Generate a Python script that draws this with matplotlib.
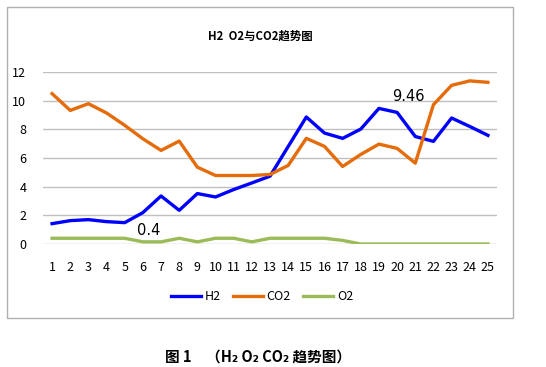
import matplotlib.pyplot as plt
from matplotlib.patches import Rectangle

plt.rcParams['font.family'] = ['Noto Sans CJK SC', 'DejaVu Sans']

days = list(range(1, 26))
h2 = [1.42, 1.63, 1.70, 1.56, 1.49, 2.19, 3.35, 2.35, 3.52, 3.28, 3.80, 4.26, 4.73,
      6.80, 8.86, 7.74, 7.37, 8.02, 9.46, 9.18, 7.50, 7.16, 8.79, 8.20, 7.58]
co2 = [10.49, 9.32, 9.79, 9.14, 8.28, 7.34, 6.53, 7.18, 5.36, 4.78, 4.78, 4.78, 4.85,
       5.48, 7.37, 6.81, 5.41, 6.25, 6.97, 6.67, 5.64, 9.72, 11.07, 11.38, 11.28]
o2 = [0.4, 0.4, 0.4, 0.4, 0.4, 0.15, 0.15, 0.4, 0.15, 0.4, 0.4, 0.15, 0.4,
      0.4, 0.4, 0.4, 0.25, 0, 0, 0, 0, 0, 0, 0, 0]

W, H = 546, 367
fig = plt.figure(figsize=(W / 100, H / 100), dpi=100)

# chart frame
fig.patches.append(Rectangle((7 / W, 1 - 318 / H), (513 - 7) / W, (318 - 7) / H,
                             transform=fig.transFigure, fill=False,
                             edgecolor='#B0B0B0', linewidth=1.0))

ax = fig.add_axes([43 / W, 123 / H, (497 - 43) / W, 172 / H])
ax.plot(days, h2, color='#0000FF', linewidth=2.4, label='H2')
ax.plot(days, co2, color='#E46C0A', linewidth=2.4, label='CO2')
ax.plot(days, o2, color='#9BBB59', linewidth=2.4, label='O2')

ax.set_xlim(0.5, 25.5)
ax.set_ylim(0, 12)
ax.set_yticks(range(0, 13, 2))
ax.set_xticks(days)
ax.grid(axis='y', color='#BFBFBF', linewidth=1.0)
ax.set_axisbelow(True)
for s in ax.spines.values():
    s.set_visible(False)
ax.tick_params(length=0, labelsize=9)
ax.tick_params(axis='y', pad=12)
ax.tick_params(axis='x', pad=12)

ax.text(20.6, 10.3, '9.46', fontsize=10.5, ha='center', va='center', family='DejaVu Sans')
ax.text(6.3, 0.95, '0.4', fontsize=10.5, ha='center', va='center', family='DejaVu Sans')

fig.text(260 / W, 1 - 36 / H, 'H2  O2与CO2趋势图', fontsize=8.2, fontweight='bold',
         ha='center', va='center')

fig.legend(loc='center', bbox_to_anchor=(262 / W, 1 - 297 / H), ncol=3, frameon=False,
           fontsize=9, handlelength=2.4, handletextpad=0.3, columnspacing=1.0)

fig.text(258 / W, 1 - 357 / H, '图 1　（H₂ O₂ CO₂ 趋势图）', fontsize=10.5,
         fontweight='bold', ha='center', va='center')

fig.savefig('out.png', dpi=100)
